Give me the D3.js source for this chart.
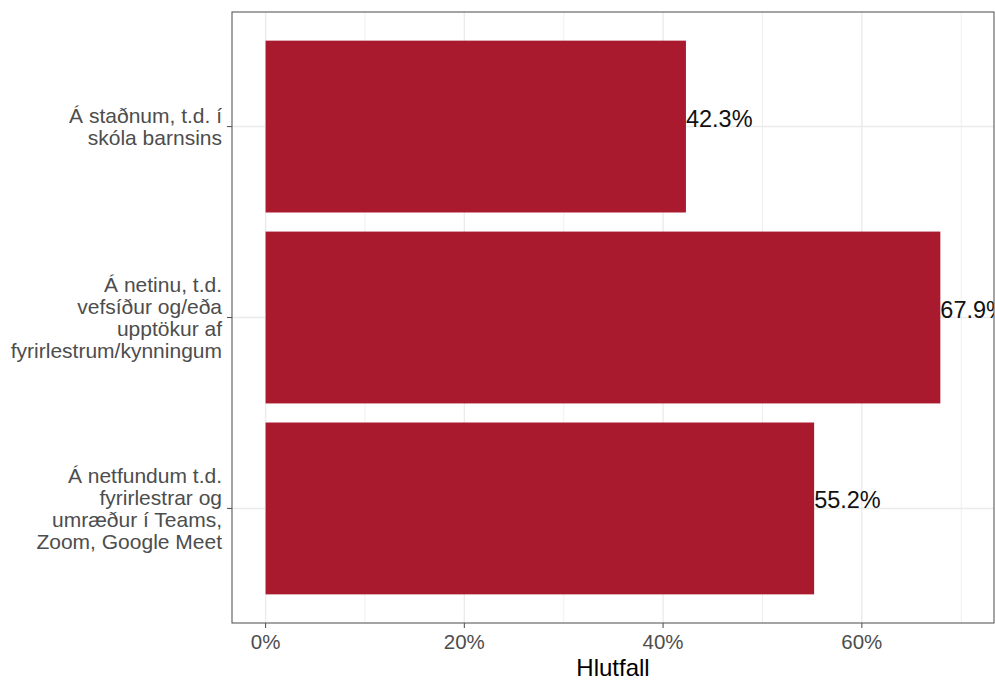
<!DOCTYPE html>
<html>
<head>
<meta charset="utf-8">
<script src="https://cdn.jsdelivr.net/npm/d3@7"></script>
<style>
  html, body { margin: 0; padding: 0; background: #fff; }
  svg { display: block; font-family: "Liberation Sans", Arial, Helvetica, sans-serif; }
</style>
</head>
<body>
<svg id="chart" width="995" height="680"></svg>
<script>
// Data (top to bottom)
const categories = [
  "Á staðnum, t.d. í\nskóla barnsins",
  "Á netinu, t.d.\nvefsíður og/eða\nupptökur af\nfyrirlestrum/kynningum",
  "Á netfundum t.d.\nfyrirlestrar og\numræður í Teams,\nZoom, Google Meet"
];
const values = [0.423, 0.679, 0.552];
const valueLabels = ["42.3%", "67.9%", "55.2%"];
const xTicks = [0, 0.2, 0.4, 0.6];
const xMinorTicks = [0.1, 0.3, 0.5, 0.7];
const xTitle = "Hlutfall";

const svg = d3.select("#chart");
const panel = { left: 232, right: 994, top: 12, bottom: 623 };

const x = d3.scaleLinear().domain([-0.0338, 0.733]).range([panel.left, panel.right]);
const y = d3.scaleBand().domain(categories).range([panel.top, panel.bottom])
  .paddingInner(0.1).paddingOuter(0.15);

svg.append("defs").append("clipPath").attr("id", "pclip")
  .append("rect").attr("x", panel.left).attr("y", panel.top)
  .attr("width", panel.right - panel.left).attr("height", panel.bottom - panel.top);

const g = svg.append("g").attr("clip-path", "url(#pclip)");

// grid
g.selectAll(".minor").data(xMinorTicks).join("line")
  .attr("x1", d => x(d)).attr("x2", d => x(d))
  .attr("y1", panel.top).attr("y2", panel.bottom)
  .attr("stroke", "#EBEBEB").attr("stroke-width", 0.8);
g.selectAll(".major").data(xTicks).join("line")
  .attr("x1", d => x(d)).attr("x2", d => x(d))
  .attr("y1", panel.top).attr("y2", panel.bottom)
  .attr("stroke", "#EBEBEB").attr("stroke-width", 1.4);
g.selectAll(".hmajor").data(categories).join("line")
  .attr("x1", panel.left).attr("x2", panel.right)
  .attr("y1", d => y(d) + y.bandwidth() / 2).attr("y2", d => y(d) + y.bandwidth() / 2)
  .attr("stroke", "#EBEBEB").attr("stroke-width", 1.4);

// bars
g.selectAll(".bar").data(categories).join("rect")
  .attr("x", x(0))
  .attr("y", d => y(d))
  .attr("width", (d, i) => x(values[i]) - x(0))
  .attr("height", y.bandwidth())
  .attr("fill", "#AA1A2F");

// value labels (clipped at the panel edge like the reference)
g.selectAll(".vlab").data(categories).join("text")
  .attr("x", (d, i) => x(values[i]))
  .attr("y", d => y(d) + y.bandwidth() / 2)
  .attr("font-size", 23.5)
  .attr("fill", "#111")
  .text((d, i) => valueLabels[i]);

// border
svg.append("rect")
  .attr("x", panel.left).attr("y", panel.top)
  .attr("width", panel.right - panel.left).attr("height", panel.bottom - panel.top)
  .attr("fill", "none").attr("stroke", "#555555").attr("stroke-width", 1.07);

// x axis ticks and labels
const xa = svg.append("g");
xa.selectAll("line").data(xTicks).join("line")
  .attr("x1", d => x(d)).attr("x2", d => x(d))
  .attr("y1", panel.bottom).attr("y2", panel.bottom + 5)
  .attr("stroke", "#555555").attr("stroke-width", 1.07);
xa.selectAll("text").data(xTicks).join("text")
  .attr("x", d => x(d)).attr("y", 649)
  .attr("text-anchor", "middle").attr("font-size", 20.5).attr("fill", "#4D4D4D")
  .text(d => d3.format(".0%")(d));

// y axis ticks and labels
const ya = svg.append("g");
ya.selectAll("line").data(categories).join("line")
  .attr("x1", panel.left - 5).attr("x2", panel.left)
  .attr("y1", d => y(d) + y.bandwidth() / 2).attr("y2", d => y(d) + y.bandwidth() / 2)
  .attr("stroke", "#555555").attr("stroke-width", 1.07);
const lh = 22;
ya.selectAll("text").data(categories).join("text")
  .attr("text-anchor", "end").attr("font-size", 21).attr("fill", "#4D4D4D")
  .each(function(d) {
    const lines = d.split("\n");
    const cy = y(d) + y.bandwidth() / 2;
    const y0 = cy - (lines.length - 1) / 2 * lh + 7.5;
    d3.select(this).selectAll("tspan").data(lines).join("tspan")
      .attr("x", 222).attr("y", (l, i) => y0 + i * lh).text(l => l);
  });

// x title
svg.append("text")
  .attr("x", (panel.left + panel.right) / 2).attr("y", 676)
  .attr("text-anchor", "middle").attr("font-size", 24).attr("fill", "#000")
  .text(xTitle);
</script>
</body>
</html>
